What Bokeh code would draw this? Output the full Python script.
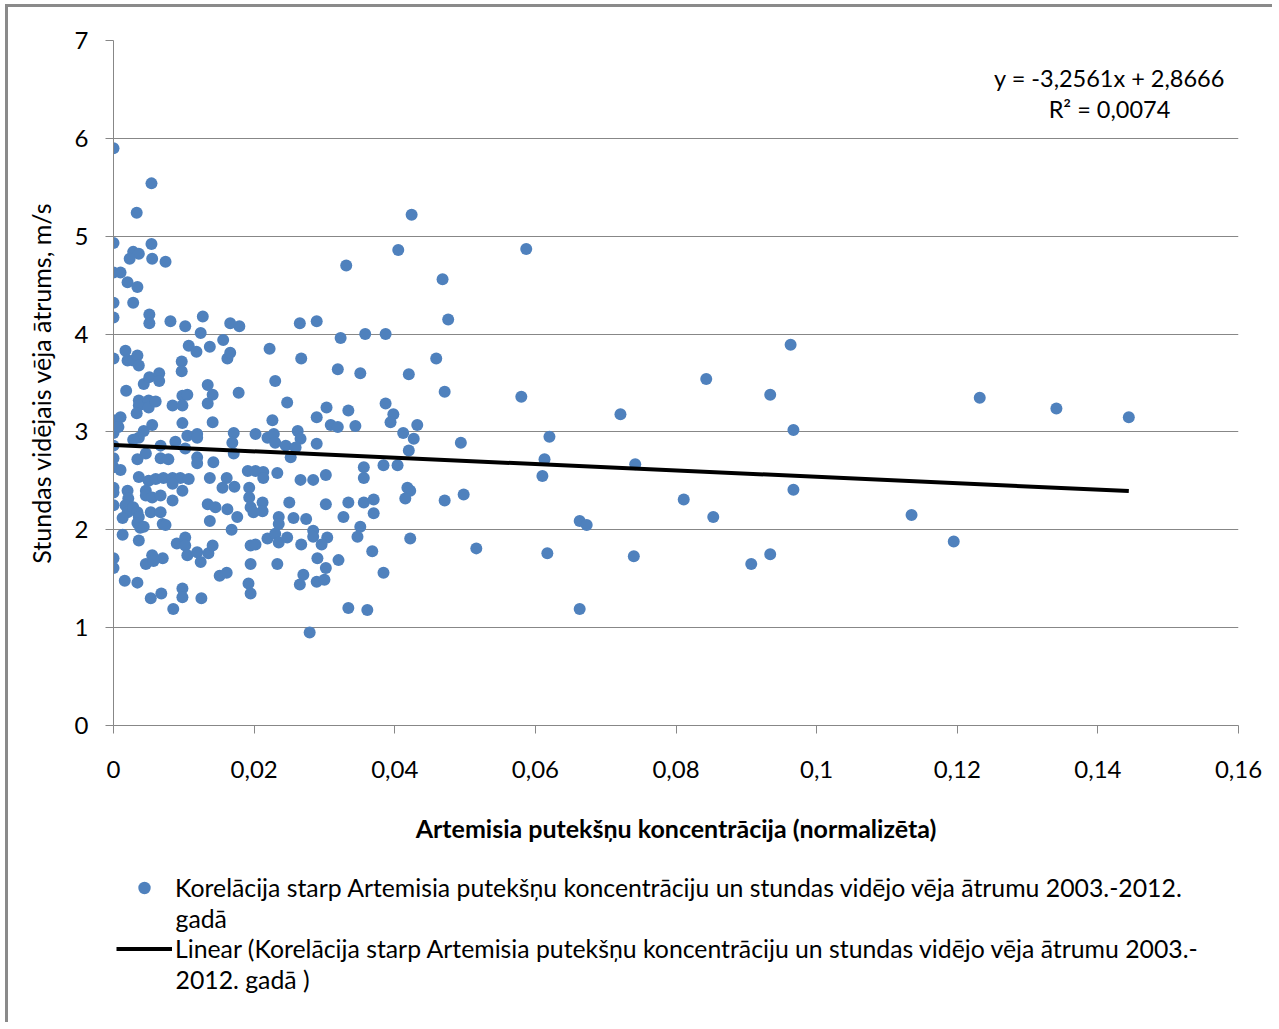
import numpy as np
from bokeh.plotting import figure
from bokeh.layouts import column
from bokeh.models import (Range1d, FixedTicker, CustomJSTickFormatter, Label,
                          Legend, LegendItem, ColumnDataSource)
from bokeh.embed import file_html
from bokeh.resources import INLINE

# ---------------- data ----------------
concentration = [
    0.0, 0.0054, 0.0033, 0.0, 0.0054, 0.0028, 0.0036, 0.0023, 0.0055, 0.0074,
    0.0, 0.0010, 0.0020, 0.0034, 0.0, 0.0028, 0.0, 0.0051, 0.0051, 0.0081,
    0.0102, 0.0127, 0.0124, 0.0156, 0.0166, 0.0179, 0.0, 0.0017, 0.0020, 0.0028,
    0.0034, 0.0036, 0.0097, 0.0097, 0.0107, 0.0118, 0.0137, 0.0162, 0.0166, 0.0222,
    0.0043, 0.0051, 0.0065, 0.0065, 0.0018,
    0.0424, 0.0405, 0.0331, 0.0468, 0.0265, 0.0289, 0.0323, 0.0358, 0.0387, 0.0267,
    0.0319, 0.0351, 0.0420, 0.0459, 0.0230, 0.0471, 0.0476, 0.0587,
    0.0036, 0.0036, 0.0050, 0.0050, 0.0060, 0.0084, 0.0098, 0.0105, 0.0098, 0.0134,
    0.0141, 0.0134, 0.0178, 0.0033, 0.0, 0.0010, 0.0, 0.0007, 0.0043, 0.0055,
    0.0036, 0.0028, 0.0098, 0.0141, 0.0105, 0.0119, 0.0119, 0.0171, 0.0169, 0.0171,
    0.0202, 0.0219, 0.0, 0.0067, 0.0067, 0.0078, 0.0034, 0.0046, 0.0088, 0.0102,
    0.0119, 0.0119, 0.0142, 0.0, 0.0, 0.0010, 0.0036, 0.0050, 0.0060, 0.0071,
    0.0084, 0.0095, 0.0107, 0.0046, 0.0046, 0.0055, 0.0067, 0.0084, 0.0098, 0.0137,
    0.0161, 0.0155, 0.0172, 0.0191, 0.0202, 0.0213, 0.0213, 0.0193, 0.0193, 0.0212,
    0.0212, 0.0, 0.0, 0.0020, 0.0021, 0.0017, 0.0020, 0.0, 0.0028, 0.0034,
    0.0036, 0.0013, 0.0053, 0.0067, 0.0070, 0.0074, 0.0084, 0.0034, 0.0038, 0.0043,
    0.0134, 0.0145, 0.0162, 0.0176, 0.0137, 0.0168, 0.0195, 0.0199, 0.0219, 0.0013,
    0.0036, 0.0090, 0.0102, 0.0102, 0.0105, 0.0119, 0.0124, 0.0135, 0.0141, 0.0055,
    0.0070, 0.0046, 0.0057, 0.0195, 0.0202, 0.0195, 0.0, 0.0, 0.0016, 0.0034,
    0.0151, 0.0161, 0.0192, 0.0195, 0.0053, 0.0068, 0.0098, 0.0098, 0.0125, 0.0085,
    0.0247, 0.0226, 0.0289, 0.0303, 0.0309, 0.0319, 0.0334, 0.0344, 0.0387, 0.0398,
    0.0394, 0.0432, 0.0412, 0.0427, 0.0420, 0.0228, 0.0230, 0.0245, 0.0262, 0.0266,
    0.0259, 0.0252, 0.0289, 0.0356, 0.0356, 0.0384, 0.0404, 0.0233, 0.0266, 0.0284,
    0.0302, 0.0418, 0.0422, 0.0415, 0.0471, 0.0250, 0.0302, 0.0334, 0.0356, 0.0370,
    0.0370, 0.0327, 0.0235, 0.0235, 0.0256, 0.0274, 0.0351, 0.0347, 0.0230, 0.0235,
    0.0247, 0.0284, 0.0284, 0.0304, 0.0296, 0.0267, 0.0422, 0.0368, 0.0233, 0.0290,
    0.0302, 0.0320, 0.0384, 0.0270, 0.0265, 0.0289, 0.0300, 0.0334, 0.0361, 0.0279,
    0.0580, 0.0843, 0.0934, 0.0963, 0.0721, 0.0494, 0.0620, 0.0967, 0.0613, 0.0610,
    0.0742, 0.0498, 0.0811, 0.0853, 0.0967, 0.0663, 0.0673, 0.0516, 0.0617, 0.0740,
    0.0907, 0.0934, 0.0663, 0.1232, 0.1341, 0.1444, 0.1135, 0.1195,
]

wind_speed = [
    5.90, 5.54, 5.24, 4.93, 4.92, 4.84, 4.82, 4.77, 4.77, 4.74,
    4.63, 4.63, 4.53, 4.48, 4.32, 4.32, 4.17, 4.20, 4.11, 4.13,
    4.08, 4.18, 4.01, 3.94, 4.11, 4.08, 3.75, 3.83, 3.73, 3.73,
    3.78, 3.68, 3.72, 3.62, 3.88, 3.82, 3.87, 3.75, 3.81, 3.85,
    3.49, 3.56, 3.60, 3.52, 3.42,
    5.22, 4.86, 4.70, 4.56, 4.11, 4.13, 3.96, 4.00, 4.00, 3.75,
    3.64, 3.60, 3.59, 3.75, 3.52, 3.41, 4.15, 4.87,
    3.32, 3.27, 3.32, 3.25, 3.31, 3.27, 3.37, 3.38, 3.27, 3.48,
    3.38, 3.29, 3.40, 3.19, 3.12, 3.15, 2.99, 3.05, 3.01, 3.07,
    2.94, 2.92, 3.09, 3.10, 2.96, 2.98, 2.94, 2.99, 2.89, 2.78,
    2.98, 2.94, 2.86, 2.86, 2.73, 2.72, 2.72, 2.78, 2.90, 2.83,
    2.74, 2.68, 2.69, 2.73, 2.64, 2.61, 2.54, 2.50, 2.52, 2.53,
    2.53, 2.53, 2.52, 2.40, 2.35, 2.33, 2.35, 2.47, 2.40, 2.53,
    2.53, 2.43, 2.44, 2.60, 2.60, 2.59, 2.53, 2.43, 2.33, 2.28,
    2.19, 2.43, 2.38, 2.40, 2.32, 2.25, 2.18, 2.25, 2.23, 2.18,
    2.13, 2.12, 2.18, 2.18, 2.06, 2.05, 2.30, 2.07, 2.02, 2.03,
    2.26, 2.23, 2.21, 2.13, 2.09, 2.00, 2.23, 2.18, 1.91, 1.95,
    1.89, 1.86, 1.92, 1.84, 1.74, 1.77, 1.67, 1.76, 1.84, 1.74,
    1.71, 1.65, 1.68, 1.84, 1.85, 1.65, 1.71, 1.61, 1.48, 1.46,
    1.53, 1.56, 1.45, 1.35, 1.30, 1.35, 1.40, 1.31, 1.30, 1.19,
    3.30, 3.12, 3.15, 3.25, 3.07, 3.05, 3.22, 3.06, 3.29, 3.18,
    3.10, 3.07, 2.99, 2.93, 2.81, 2.98, 2.89, 2.86, 3.01, 2.93,
    2.84, 2.74, 2.88, 2.64, 2.53, 2.66, 2.66, 2.58, 2.51, 2.51,
    2.56, 2.43, 2.40, 2.32, 2.30, 2.28, 2.26, 2.28, 2.28, 2.31,
    2.17, 2.13, 2.13, 2.06, 2.12, 2.11, 2.03, 1.93, 1.96, 1.87,
    1.92, 1.99, 1.93, 1.92, 1.85, 1.85, 1.91, 1.78, 1.65, 1.71,
    1.61, 1.69, 1.56, 1.54, 1.44, 1.47, 1.49, 1.20, 1.18, 0.95,
    3.36, 3.54, 3.38, 3.89, 3.18, 2.89, 2.95, 3.02, 2.72, 2.55,
    2.67, 2.36, 2.31, 2.13, 2.41, 2.09, 2.05, 1.81, 1.76, 1.73,
    1.65, 1.75, 1.19, 3.35, 3.24, 3.15, 2.15, 1.88,
]

trend_slope = -3.2561
trend_intercept = 2.8666
trend_r2 = 0.0074

x_ticks = [0.0, 0.02, 0.04, 0.06, 0.08, 0.10, 0.12, 0.14, 0.16]
x_tick_labels = ["0", "0,02", "0,04", "0,06", "0,08", "0,1", "0,12", "0,14", "0,16"]
y_ticks = [0, 1, 2, 3, 4, 5, 6, 7]

series_label = "Korelācija starp Artemisia putekšņu koncentrāciju un stundas vidējo vēja ātrumu 2003.-2012."
series_label_cont = "gadā"
trend_label = "Linear (Korelācija starp Artemisia putekšņu koncentrāciju un stundas vidējo vēja ātrumu 2003.-"
trend_label_cont = "2012. gadā )"
x_title = "Artemisia putekšņu koncentrācija (normalizēta)"
y_title = "Stundas vidējais vēja ātrums, m/s"

assert len(concentration) == len(wind_speed)

# ---------------- styling constants ----------------
FONT = "Lato"
GRID = "#878787"
BLUE = "#4F81BD"
W = 1264
LEG_FS = "24.8px"

src = ColumnDataSource(dict(x=concentration, y=wind_speed))
tx = np.array([min(concentration), max(concentration)])
ty = trend_slope * tx + trend_intercept

# ---------------- main chart ----------------
p = figure(width=W, height=843, output_backend="svg", toolbar_location=None,
           x_range=Range1d(0, 0.16), y_range=Range1d(0, 7),
           min_border_left=105, min_border_right=34, min_border_top=33,
           min_border_bottom=125,
           background_fill_color="white", border_fill_color="white")
p.outline_line_color = None
p.xgrid.grid_line_color = None
p.ygrid.grid_line_color = GRID
p.ygrid.grid_line_width = 1

p.xaxis.ticker = FixedTicker(ticks=x_ticks)
p.xaxis.formatter = CustomJSTickFormatter(
    args=dict(vals=x_ticks, labs=x_tick_labels),
    code="""
    let best = 0;
    for (let i = 0; i < vals.length; i++) {
        if (Math.abs(vals[i] - tick) < Math.abs(vals[best] - tick)) best = i;
    }
    return labs[best];
""")
p.yaxis.ticker = FixedTicker(ticks=y_ticks)
for ax in (p.xaxis[0], p.yaxis[0]):
    ax.axis_line_color = GRID
    ax.axis_line_width = 1
    ax.major_tick_line_color = GRID
    ax.major_tick_out = 8
    ax.major_tick_in = 0
    ax.minor_tick_line_color = None
    ax.major_label_text_font = FONT
    ax.major_label_text_font_size = "24px"
    ax.major_label_text_color = "#000000"
    ax.axis_label_text_font = FONT
    ax.axis_label_text_font_size = "25px"
    ax.axis_label_text_color = "#000000"

p.xaxis.axis_label = x_title
p.xaxis.axis_label_text_font_style = "bold"
p.xaxis.major_label_standoff = 27
p.xaxis.axis_label_standoff = 32
p.yaxis.axis_label = y_title
p.yaxis.axis_label_text_font_style = "normal"
p.yaxis.major_label_standoff = 17
p.yaxis.axis_label_standoff = 16

p.scatter("x", "y", source=src, size=12, marker="circle",
          fill_color=BLUE, line_color=BLUE, line_width=0)
p.line(tx, ty, line_color="#000000", line_width=4)


def fmt(v, n):
    return f"{v:.{n}f}".replace(".", ",")


eq = f"y = {fmt(trend_slope, 4)}x + {fmt(trend_intercept, 4)}"
r2 = f"R² = {fmt(trend_r2, 4)}"
for txt, yy in ((eq, 648), (r2, 617)):
    p.add_layout(Label(x=996, y=yy, x_units="screen", y_units="screen", text=txt,
                       text_font=FONT, text_font_size="23.5px",
                       text_align="center", text_baseline="middle",
                       text_color="#000000"))

# ---------------- legend strip (same series, viewed outside its range) -------
lg = figure(width=W, height=172, output_backend="svg", toolbar_location=None,
            x_range=Range1d(1, 2), y_range=Range1d(10, 11),
            x_axis_type=None, y_axis_type=None,
            min_border_left=0, min_border_right=0, min_border_top=0,
            min_border_bottom=0, background_fill_color="white",
            border_fill_color="white")
lg.outline_line_color = None
lg.grid.visible = False
leg_pts = lg.scatter("x", "y", source=src, size=12, marker="circle",
                     fill_color=BLUE, line_color=BLUE, line_width=0)
leg_line = lg.line(tx, ty, line_color="#000000", line_width=4)

legend = Legend(items=[LegendItem(label=series_label, renderers=[leg_pts]),
                       LegendItem(label=trend_label, renderers=[leg_line])],
                location=(3, 58.5), orientation="vertical",
                glyph_width=56, glyph_height=31, label_height=31, spacing=30,
                label_standoff=3, padding=0, margin=0,
                border_line_color=None, background_fill_alpha=0,
                label_text_font=FONT, label_text_font_size=LEG_FS,
                label_text_color="#000000")
lg.add_layout(legend, "center")
for txt, yy in ((series_label_cont, 104), (trend_label_cont, 43)):
    lg.add_layout(Label(x=62, y=yy, x_units="screen", y_units="screen", text=txt,
                        text_font=FONT, text_font_size=LEG_FS,
                        text_align="left", text_baseline="middle",
                        text_color="#000000"))

layout = column(p, lg, spacing=0)
layout.styles = {"margin-left": "5px", "margin-top": "4px",
                 "border-left": "3px solid #8a8a8a",
                 "border-top": "3px solid #8a8a8a"}

open("out.html", "w").write(file_html(layout, INLINE))
